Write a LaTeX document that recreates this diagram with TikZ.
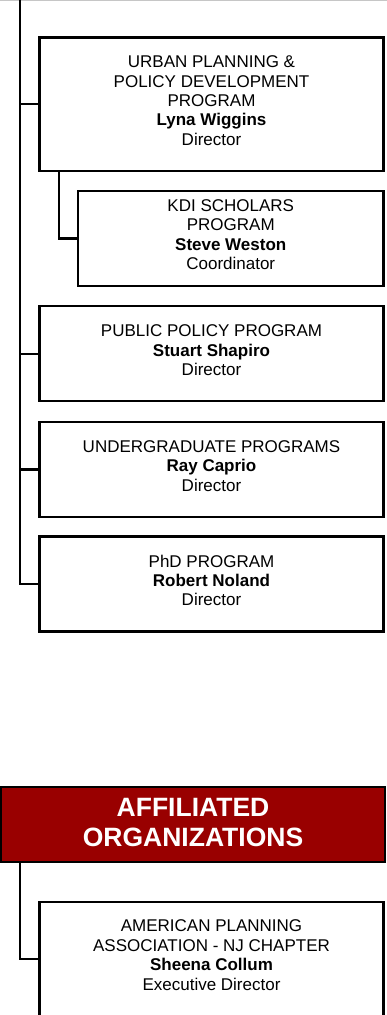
\documentclass[tikz,border=0pt]{standalone}
\usepackage{fontspec}
\setmainfont{Liberation Sans}
\definecolor{affred}{HTML}{990000}
\begin{document}
\begin{tikzpicture}[x=1pt,y=-1pt,line width=2.4pt,
  box/.style={draw=black,fill=white,minimum width=344pt,minimum height=95pt,inner sep=0pt,outer sep=0pt},
  txt/.style={align=center,font=\fontsize{17}{19.4}\selectfont,inner sep=0pt},
  conn/.style={draw=black,line width=2.4pt},
  redbox/.style={draw=black,fill=affred,minimum width=384pt,minimum height=75pt,inner sep=0pt,outer sep=0pt},
  redtxt/.style={align=center,text=white,font=\fontsize{26.5}{30}\selectfont\bfseries,inner sep=0pt}]
\useasboundingbox (0,0) rectangle (387,1015);
\draw[gray!45,line width=1pt] (0,0.5) -- (387,0.5);
\coordinate (top) at (20,0);

\node[box,minimum height=133.4pt] (b1) at (211.5,104.2) {};
\node[txt] (t1) at ([yshift=3.5pt]b1.center) {URBAN PLANNING \&\\POLICY DEVELOPMENT\\PROGRAM\\\textbf{Lyna Wiggins}\\Director};

\node[box,minimum width=305.5pt] (kdi) at (230.75,238.3) {};
\node[txt] (tk) at ([yshift=3.5pt]kdi.center) {KDI SCHOLARS\\PROGRAM\\\textbf{Steve Weston}\\Coordinator};

\node[box] (pp) at (211.5,353.7) {};
\node[txt] (tp) at ([yshift=3.5pt]pp.center) {PUBLIC POLICY PROGRAM\\\textbf{Stuart Shapiro}\\Director};

\node[box] (ug) at (211.5,469.3) {};
\node[txt] (tu) at ([yshift=3.5pt]ug.center) {UNDERGRADUATE PROGRAMS\\\textbf{Ray Caprio}\\Director};

\node[box] (phd) at (211.5,584) {};
\node[txt] (tph) at ([yshift=3.5pt]phd.center) {PhD PROGRAM\\\textbf{Robert Noland}\\Director};

\node[redbox] (aff) at (193,824.2) {};
\node[redtxt] (ta) at ([yshift=2pt]aff.center) {AFFILIATED\\ORGANIZATIONS};

\node[box,minimum height=114pt] (apa) at (211.5,958.7) {};
\node[txt] (tapa) at ([yshift=3.5pt]apa.center) {AMERICAN PLANNING\\ASSOCIATION - NJ CHAPTER\\\textbf{Sheena Collum}\\Executive Director};

\draw[conn] (top) |- (phd.west);
\draw[conn] (top |- b1.west) -- (b1.west);
\draw[conn] (top |- pp.west) -- (pp.west);
\draw[conn] (top |- ug.west) -- (ug.west);
\draw[conn] ([xshift=19.5pt]b1.south west) |- (kdi.west);
\draw[conn] (aff.south -| top) |- (apa.west);
\end{tikzpicture}
\end{document}
